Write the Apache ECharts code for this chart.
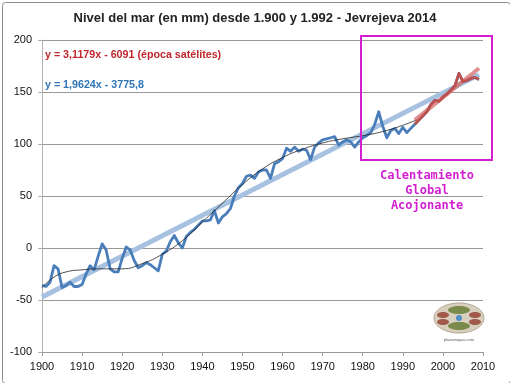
<!DOCTYPE html>
<html>
<head>
<meta charset="utf-8">
<script src="https://cdn.jsdelivr.net/npm/echarts@6/dist/echarts.min.js"></script>
<style>html,body{margin:0;padding:0;background:#fff}#c{width:510px;height:383px}</style>
</head>
<body>
<div id="c"></div>
<script>
// ---- data ----
var titleText = 'Nivel del mar (en mm) desde 1.900 y 1.992 - Jevrejeva 2014';
var xTicks = [1900, 2010, 10];
var yTicks = [-100, 200, 50];
var seaStartYear = 1900;
var seaLevel = [
  -36, -37, -33, -17, -20, -38, -36, -33, -37, -37,   // 1900-1909
  -35, -25, -17, -21, -8, 4, -2, -20, -23, -23,       // 1910-1919
  -10, 1, -2, -12, -19, -17, -14, -16, -19, -22,      // 1920-1929
  -6, -3, 6, 12, 5, 0, 11, 15, 18, 22,                // 1930-1939
  26, 26, 27, 36, 24, 30, 33, 38, 50, 58,             // 1940-1949
  62, 69, 70, 67, 73, 75, 75, 67, 81, 83,             // 1950-1959
  86, 96, 93, 97, 93, 95, 94, 85, 97, 101,            // 1960-1969
  104, 105, 106, 107, 99, 102, 104, 102, 97, 102,     // 1970-1979
  106, 108, 111, 119, 131, 117, 106, 113, 115, 110,   // 1980-1989
  116, 111, 115, 119, 123, 127, 131, 138, 142, 141,   // 1990-1999
  145, 148, 152, 156, 168, 160, 161, 163, 164, 162    // 2000-2009
];
var satStartYear = 1993;
var satLevel = [119, 123, 127, 131, 138, 142, 141, 145, 148, 152, 156, 168, 160, 161, 163, 164, 162];
var linTrendYears = [1900, 2009];
var linTrendVals = [-47.2, 166.7];
var satTrendYears = [1993, 2009];
var satTrendVals = [123.0, 172.9];
var polyYears = [1900, 1903, 1906, 1910, 1915, 1920, 1925, 1930, 1935, 1940, 1945, 1950, 1955, 1960, 1965, 1970, 1975, 1980, 1985, 1990, 1994];
var polyVals  = [-38, -28, -23, -21, -20, -20, -15, -6, 7, 25, 43, 61, 76, 87, 95, 101, 105, 108, 112, 118, 124];
var eqSat = 'y = 3,1179x - 6091 (época satélites)';
var eqAll = 'y = 1,9624x - 3775,8';
var boxText = 'Calentamiento\nGlobal\nAcojonante';
var logoText = 'plazamoyua.com';

// ---- build ----
function pairs(start, arr){ return arr.map(function(v,i){ return [start+i, v]; }); }
function zip(xs, ys){ return xs.map(function(x,i){ return [x, ys[i]]; }); }
var FF = 'Liberation Sans, Arial, sans-serif';
var chart = echarts.init(document.getElementById('c'), null, {renderer:'canvas'});
var gridCol = '#999999';
chart.setOption({
  backgroundColor:'#ffffff',
  animation:false,
  title:{text:titleText, left:'center', top:7, textStyle:{fontFamily:FF, fontSize:13, fontWeight:'bold', color:'#222'}},
  grid:{left:42, right:27, top:40, bottom:31, containLabel:false},
  xAxis:[
    {type:'value', min:xTicks[0], max:xTicks[1], interval:xTicks[2],
     axisLine:{show:false}, axisTick:{show:false}, splitLine:{show:false},
     axisLabel:{fontFamily:FF, fontSize:11, color:'#111', margin:9, formatter:function(v){return String(v);}}},
    {type:'value', min:xTicks[0], max:xTicks[1], interval:xTicks[2], position:'bottom',
     axisLine:{show:true, onZero:true, lineStyle:{color:gridCol}},
     axisTick:{show:true, length:4, lineStyle:{color:gridCol}},
     axisLabel:{show:false}, splitLine:{show:false}}
  ],
  yAxis:{type:'value', min:yTicks[0], max:yTicks[1], interval:yTicks[2],
    axisLine:{show:true, lineStyle:{color:'#b0b0b0'}},
    axisTick:{show:true, length:4, lineStyle:{color:'#b0b0b0'}},
    splitLine:{show:true, lineStyle:{color:gridCol, width:1}},
    axisLabel:{fontFamily:FF, fontSize:11, color:'#111', margin:10}},
  series:[
    {type:'line', data:zip(linTrendYears, linTrendVals), symbol:'none', z:2,
     lineStyle:{color:'#a7c1e0', width:5}},
    {type:'line', data:pairs(seaStartYear, seaLevel), symbol:'none', z:3,
     lineStyle:{color:'#4a7ebb', width:2.8, join:'round'}},
    {type:'line', data:zip(polyYears, polyVals), symbol:'none', smooth:true, z:4,
     lineStyle:{color:'#222', width:0.8}},
    {type:'line', data:zip(satTrendYears, satTrendVals), symbol:'none', z:5,
     lineStyle:{color:'#d46a67', width:4, opacity:0.75}},
    {type:'line', data:pairs(satStartYear, satLevel), symbol:'none', z:6,
     lineStyle:{color:'#c0504d', width:2.6, join:'round'}}
  ],
  graphic:[
    {type:'rect', left:0, top:0, shape:{x:0.5, y:0.5, width:508, height:381, r:3}, style:{fill:null, stroke:'#8c8c8c', lineWidth:1}, silent:true},
    {type:'text', x:45, y:50, style:{text:eqSat, font:'bold 10.7px Liberation Sans, Arial', fill:'#c0272d'}},
    {type:'text', x:45, y:80, style:{text:eqAll, font:'bold 10.7px Liberation Sans, Arial', fill:'#2e75b6'}},
    {type:'rect', shape:{x:361, y:36, width:131, height:124}, style:{fill:null, stroke:'#d21fd2', lineWidth:2}, z:10},
    {type:'text', x:427, y:168, style:{text:boxText, font:'bold 12px DejaVu Sans Mono', fill:'#d21fd2', textAlign:'center', lineHeight:15}, z:10},
    {type:'group', x:459, y:318, children:[
      {type:'ellipse', shape:{cx:0, cy:0, rx:25, ry:15}, style:{fill:'#d8cfbe', stroke:'#b2a793', lineWidth:1}},
      {type:'ellipse', shape:{cx:0, cy:-8, rx:11, ry:4}, style:{fill:'#7a8a4a'}},
      {type:'ellipse', shape:{cx:0, cy:8, rx:11, ry:4}, style:{fill:'#7a8a4a'}},
      {type:'ellipse', shape:{cx:-16, cy:-3, rx:6, ry:3}, style:{fill:'#a05a4a'}},
      {type:'ellipse', shape:{cx:16, cy:-3, rx:6, ry:3}, style:{fill:'#a05a4a'}},
      {type:'ellipse', shape:{cx:-16, cy:4, rx:6, ry:3}, style:{fill:'#a05a4a'}},
      {type:'ellipse', shape:{cx:16, cy:4, rx:6, ry:3}, style:{fill:'#a05a4a'}},
      {type:'circle', shape:{cx:0, cy:0, r:3}, style:{fill:'#4f8fc8'}},
      {type:'text', x:0, y:20, style:{text:logoText, font:'4px Liberation Sans', fill:'#556', textAlign:'center'}}
    ]}
  ]
});
</script>
</body>
</html>
